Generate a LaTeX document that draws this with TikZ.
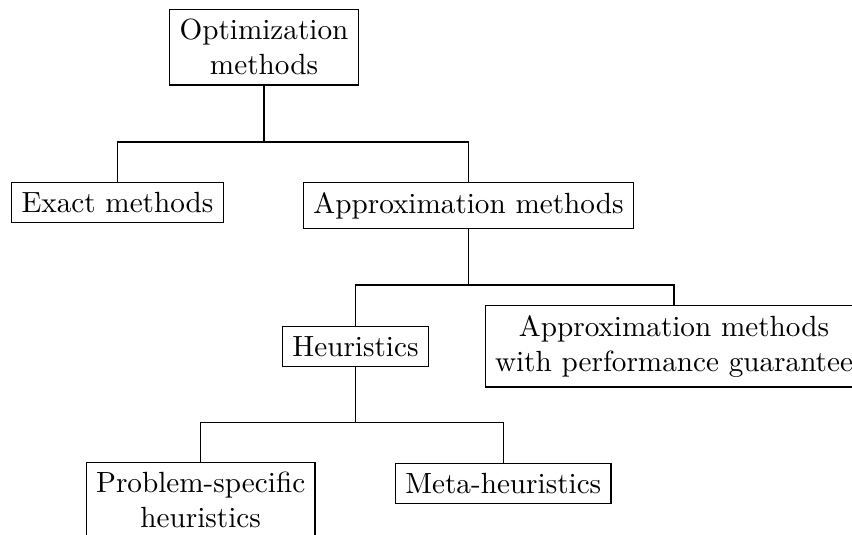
\documentclass[tikz,border=0pt]{standalone}
\begin{document}
\begin{tikzpicture}[x=0.3425pt, y=-0.3425pt,
  box/.style={draw, anchor=north, align=center, line width=0.4pt},
  link/.style={line width=0.4pt}]
\useasboundingbox (0,0) rectangle (852,535);
\node[box] (opt) at (264,9) {Optimization\\methods};
\node[box] (exact) at (117.5,182) {Exact methods};
\node[box] (approx) at (468.5,182) {Approximation methods};
\node[box] (heur) at (355.5,326) {Heuristics};
\node[box] (perf) at (674,305) {Approximation methods\\with performance guarantee};
\node[box] (prob) at (200.7,462) {Problem-specific\\heuristics};
\node[box] (meta) at (503.3,463) {Meta-heuristics};
\coordinate (j1) at (264,142);
\coordinate (j2) at (468.5,285);
\coordinate (j3) at (355.5,422.7);
\draw[link] (opt.south) -- (j1);
\draw[link] (exact.north) |- (j1) -| (approx.north);
\draw[link] (approx.south) -- (j2);
\draw[link] (heur.north) |- (j2) -| (perf.north);
\draw[link] (heur.south) -- (j3);
\draw[link] (prob.north) |- (j3) -| (meta.north);
\end{tikzpicture}
\end{document}
